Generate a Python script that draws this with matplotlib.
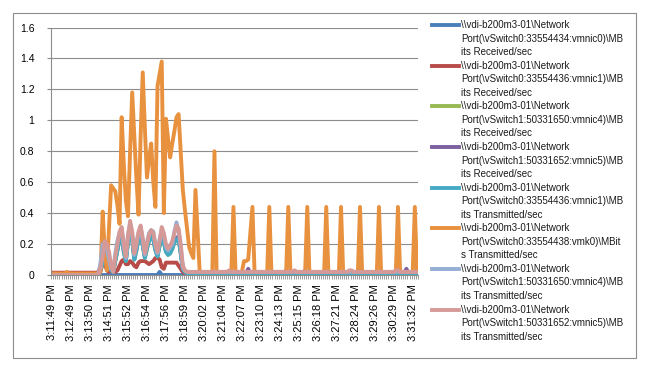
import matplotlib
matplotlib.use("Agg")
import matplotlib.pyplot as plt
from matplotlib.lines import Line2D
from matplotlib.patches import Rectangle
import numpy as np

# ---------------- Data ----------------
# 174 samples, a label on every 9th one
tick_labels = ["3:11:49 PM", "3:12:49 PM", "3:13:50 PM", "3:14:51 PM", "3:15:52 PM",
               "3:16:54 PM", "3:17:56 PM", "3:18:59 PM", "3:20:02 PM", "3:21:04 PM",
               "3:22:07 PM", "3:23:10 PM", "3:24:13 PM", "3:25:15 PM", "3:26:18 PM",
               "3:27:21 PM", "3:28:24 PM", "3:29:26 PM", "3:30:29 PM", "3:31:32 PM"]
label_every = 9
n_samples = 174

vmnic0_rx = [0.0] * 51 + [0.02] + [0.0] * 122

vmnic1_rx = ([0.015] * 22 +
             [0.02, 0.05, 0.10, 0.08, 0.03, 0.02, 0.05, 0.04, 0.02, 0.03, 0.06, 0.09,
              0.10, 0.07, 0.07, 0.09, 0.08, 0.06, 0.05, 0.08, 0.09, 0.09, 0.09, 0.08,
              0.07, 0.08, 0.09, 0.11, 0.11, 0.10, 0.05, 0.04, 0.08, 0.08, 0.08, 0.08,
              0.08, 0.08, 0.06, 0.04, 0.02, 0.01] +
             [0.005] * 110)

vmnic4_rx = ([0.0] * 22 +
             [0.0, 0.03, 0.07, 0.14, 0.13, 0.09, 0.03, 0.02, 0.09, 0.16, 0.23, 0.26,
              0.15, 0.09, 0.21, 0.30, 0.23, 0.10, 0.16, 0.24, 0.27, 0.19, 0.11, 0.17,
              0.23, 0.25, 0.23, 0.16, 0.12, 0.19, 0.26, 0.21, 0.15, 0.13, 0.14, 0.17,
              0.21, 0.23, 0.24, 0.14, 0.04, 0.02] +
             [0.01] * 110)

vmnic5_rx = ([0.0] * 22 +
             [0.0, 0.03, 0.08, 0.15, 0.14, 0.10, 0.03, 0.02, 0.10, 0.17, 0.24, 0.27,
              0.16, 0.10, 0.22, 0.31, 0.24, 0.11, 0.17, 0.25, 0.28, 0.20, 0.12, 0.18,
              0.24, 0.26, 0.24, 0.17, 0.13, 0.20, 0.27, 0.22, 0.16, 0.14, 0.15, 0.18,
              0.22, 0.24, 0.25, 0.15, 0.04, 0.02] +
             [0.01] * 29 + [0.04] + [0.01] * 17 + [0.03] + [0.01] * 8 + [0.03] +
             [0.01] * 25 + [0.03] + [0.01] * 21 + [0.04] + [0.01] * 5)

vmnic1_tx = ([0.0] * 22 +
             [0.0, 0.03, 0.08, 0.15, 0.14, 0.09, 0.03, 0.02, 0.09, 0.16, 0.23, 0.26,
              0.15, 0.09, 0.21, 0.29, 0.23, 0.10, 0.16, 0.23, 0.26, 0.19, 0.11, 0.17,
              0.22, 0.25, 0.23, 0.16, 0.12, 0.19, 0.25, 0.21, 0.15, 0.13, 0.14, 0.17,
              0.21, 0.23, 0.23, 0.14, 0.04, 0.02] +
             [0.01] * 110)

vmk0_tx = ([0.01] * 7 + [0.02] + [0.01] * 15 +
           [0.02, 0.41, 0.15, 0.03, 0.30, 0.58, 0.56, 0.54, 0.45, 0.33, 1.02, 0.72,
            0.48, 0.38, 0.80, 1.18, 0.90, 0.62, 0.39, 0.90, 1.31, 0.95, 0.63, 0.75,
            0.85, 0.60, 0.44, 1.22, 1.30, 1.38, 0.40, 1.01, 0.88, 0.76, 0.85, 0.93,
            1.02, 1.04, 0.80, 0.55, 0.42, 0.30, 0.18, 0.14, 0.11, 0.55, 0.28, 0.02] +
           [0.02] * 6 + [0.80] + [0.02] * 8 + [0.44] + [0.02] * 4 +
           [0.09, 0.09, 0.10, 0.27, 0.44] +
           [0.02] * 7 + [0.44] + [0.02] * 8 + [0.44] + [0.02] * 8 + [0.44] +
           [0.02] * 8 + [0.44] + [0.02] * 6 + [0.44] + [0.02] * 8 + [0.44] +
           [0.02] * 8 + [0.44] + [0.02] * 8 + [0.44] + [0.02] * 7 + [0.44] + [0.02])

vmnic4_tx = ([0.0] * 22 +
             [0.01, 0.08, 0.20, 0.20, 0.16, 0.10, 0.04, 0.03, 0.14, 0.22, 0.27, 0.30,
              0.18, 0.11, 0.26, 0.33, 0.26, 0.13, 0.21, 0.27, 0.30, 0.22, 0.13, 0.21,
              0.27, 0.29, 0.28, 0.19, 0.14, 0.23, 0.29, 0.25, 0.18, 0.16, 0.18, 0.20,
              0.28, 0.34, 0.28, 0.18, 0.05, 0.03] +
             [0.02] * 110)

vmnic5_tx = ([0.0] * 22 +
             [0.01, 0.05, 0.12, 0.22, 0.20, 0.15, 0.06, 0.02, 0.12, 0.20, 0.28, 0.31,
              0.20, 0.12, 0.25, 0.35, 0.28, 0.14, 0.20, 0.28, 0.32, 0.24, 0.14, 0.20,
              0.26, 0.29, 0.27, 0.20, 0.15, 0.22, 0.31, 0.27, 0.20, 0.17, 0.19, 0.22,
              0.27, 0.32, 0.30, 0.20, 0.06, 0.03] +
             [0.02] * 20 + [0.03] + [0.02] * 30 + [0.03] + [0.02] * 25 + [0.03, 0.03] +
             [0.02] * 20 + [0.03, 0.03] + [0.02] * 9)

series = [
    (vmnic0_rx, "#4A7EBB", ["\\\\vdi-b200m3-01\\Network", "Port(\\vSwitch0:33554434:vmnic0)\\MB", "its Received/sec"]),
    (vmnic1_rx, "#B84C49", ["\\\\vdi-b200m3-01\\Network", "Port(\\vSwitch0:33554436:vmnic1)\\MB", "its Received/sec"]),
    (vmnic4_rx, "#98B954", ["\\\\vdi-b200m3-01\\Network", "Port(\\vSwitch1:50331650:vmnic4)\\MB", "its Received/sec"]),
    (vmnic5_rx, "#7D60A0", ["\\\\vdi-b200m3-01\\Network", "Port(\\vSwitch1:50331652:vmnic5)\\MB", "its Received/sec"]),
    (vmnic1_tx, "#46AAC5", ["\\\\vdi-b200m3-01\\Network", "Port(\\vSwitch0:33554436:vmnic1)\\MB", "its Transmitted/sec"]),
    (vmk0_tx, "#E8913F", ["\\\\vdi-b200m3-01\\Network", "Port(\\vSwitch0:33554438:vmk0)\\MBit", "s Transmitted/sec"]),
    (vmnic4_tx, "#95AED3", ["\\\\vdi-b200m3-01\\Network", "Port(\\vSwitch1:50331650:vmnic4)\\MB", "its Transmitted/sec"]),
    (vmnic5_tx, "#D59A98", ["\\\\vdi-b200m3-01\\Network", "Port(\\vSwitch1:50331652:vmnic5)\\MB", "its Transmitted/sec"]),
]

# ---------------- Figure ----------------
W, H = 650, 371
plt.rcParams['font.family'] = ['Liberation Sans', 'DejaVu Sans']
fig = plt.figure(figsize=(W / 100, H / 100), dpi=100)
fig.patch.set_facecolor("white")

# outer chart border
fig.patches.append(Rectangle((12.5 / W, 1 - 357.5 / H), (636 - 12.5) / W, (357.5 - 12.5) / H,
                             transform=fig.transFigure, fill=False,
                             edgecolor="#8C8C8C", linewidth=0.8))

left, right, top, bottom = 51, 418, 27.5, 275
ax = fig.add_axes([left / W, 1 - bottom / H, (right - left) / W, (bottom - top) / H])

x = np.arange(n_samples)
for values, color, _ in series:
    ax.plot(x, values, color=color, linewidth=2.8, solid_joinstyle="round")

ax.set_xlim(-0.5, n_samples - 0.5)
ax.set_ylim(0, 1.6)
ax.set_yticks(np.arange(0, 1.61, 0.2))
ax.set_yticklabels(["0", "0.2", "0.4", "0.6", "0.8", "1", "1.2", "1.4", "1.6"])
ax.yaxis.grid(True, color="#8C8C8C", linewidth=0.8)
ax.set_axisbelow(True)

# labels on every 9th category, tick marks between categories
ax.set_xticks(np.arange(0, n_samples, label_every))
ax.set_xticklabels(tick_labels, rotation=90, fontsize=8)
ax.set_xticks(np.arange(-0.5, n_samples, 1), minor=True)
ax.tick_params(axis="x", which="major", length=0, pad=6.5)
ax.tick_params(axis="x", which="minor", length=3, width=0.6, color="#8C8C8C")
ax.tick_params(axis="y", length=3, width=0.8, color="#8C8C8C", labelsize=7.5, pad=9)

for side in ["top", "right"]:
    ax.spines[side].set_visible(False)
for side in ["left", "bottom"]:
    ax.spines[side].set_color("#8C8C8C")
    ax.spines[side].set_linewidth(0.8)

# ---------------- Legend ----------------
line_h = 13.55
y0 = 25
for k, (_, color, lines) in enumerate(series):
    y_first = y0 + k * 3 * line_h
    fig.lines.append(Line2D([431.7 / W, 459.3 / W], [1 - y_first / H, 1 - y_first / H],
                            transform=fig.transFigure, color=color, linewidth=2.8))
    for j, txt in enumerate(lines):
        fig.text(461 / W, 1 - (y_first + j * line_h) / H, txt, fontsize=7,
                 ha="left", va="center", color="#1A1A1A")

fig.savefig("out.png", dpi=100, facecolor="white")
